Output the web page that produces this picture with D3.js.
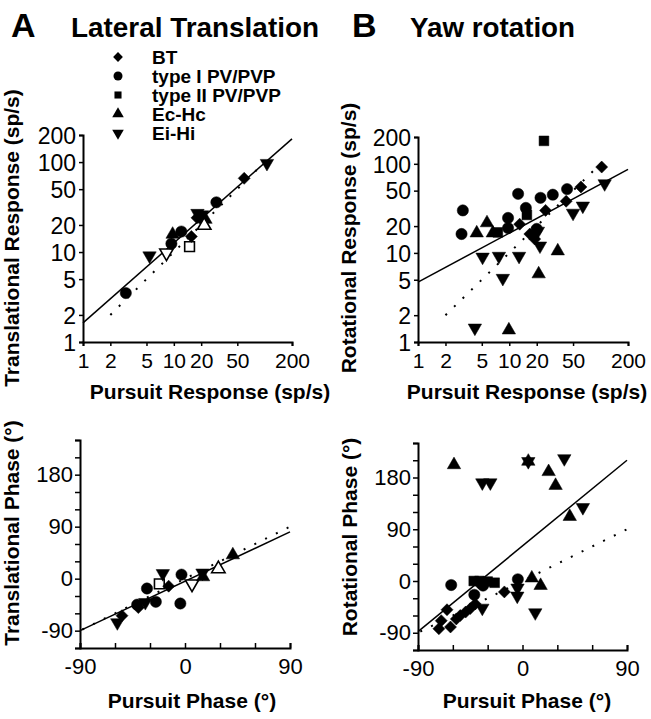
<!DOCTYPE html>
<html>
<head>
<meta charset="utf-8">
<script src="https://cdn.jsdelivr.net/npm/d3@7"></script>
<style>
  body { margin: 0; background: #fff; }
  text { font-family: "Liberation Sans", Arial, sans-serif; fill: #000; }
</style>
</head>
<body>
<svg id="fig" width="651" height="719"></svg>
<script>
// legend / cell types
const typeKeys = ['bt', 'pv1', 'pv2', 'ec', 'ei'];
const typeLabels = ['BT', 'type I PV/PVP', 'type II PV/PVP', 'Ec-Hc', 'Ei-Hi'];

// tick values
const logTicksY = [1, 2, 5, 10, 20, 50, 100, 200];
const logTicksX = [1, 2, 5, 10, 20, 50, 200];
const phaseTicksX = [-90, -60, -30, 0, 30, 60, 90];
const phaseLabelsX = [-90, 0, 90];
const phaseTicksY = [-120, -90, -60, -30, 0, 30, 60, 90, 120, 150, 180, 210, 240];
const phaseLabelsY = [-90, 0, 90, 180];

// [pursuit, response, type, open]
const transResp = [
  [2.96, 3.5, 'pv1'], [5.4, 9.1, 'ei'], [8.3, 9.8, 'ei', 1], [9.4, 12.4, 'pv1'],
  [9.7, 15.7, 'ec'], [12.1, 16.9, 'pv1'], [14.9, 11.5, 'pv2', 1], [15.6, 14.9, 'bt'],
  [18.2, 27, 'ei'], [18, 24, 'bt'], [20, 24, 'pv1'], [20.5, 26, 'ei'],
  [22.3, 23, 'ec'], [21.6, 19.8, 'ec', 1], [29.4, 35.7, 'pv1'], [59.5, 66, 'bt'],
  [106, 97, 'ei']
];
const rotResp = [
  [24, 181, 'pv2'], [103, 92, 'bt'], [111, 60, 'ei'], [61, 55, 'bt'], [43, 52, 'pv1'],
  [30, 45, 'pv1'], [22, 41.5, 'pv1'], [12.5, 46, 'pv1'], [3.1, 30, 'pv1'], [3.0, 16.3, 'pv1'],
  [4.4, 16.7, 'ec'], [5.7, 21.7, 'ec'], [6.6, 16.7, 'ec'], [7.5, 17, 'pv2'], [9.7, 24.7, 'pv1'],
  [9.7, 19, 'pv1'], [15.2, 32, 'pv1'], [15.6, 26.7, 'pv2'], [13, 21, 'bt'], [25, 30, 'bt'],
  [42, 38, 'bt'], [50, 28, 'ei'], [64, 33.7, 'ei'], [16.8, 16.3, 'bt'], [19, 14.3, 'bt'],
  [20.6, 17.6, 'ei'], [21.7, 12, 'ei'], [20, 18.6, 'pv1'], [21, 5.8, 'ec'], [34, 10.5, 'ec'],
  [5.1, 9, 'ei'], [7.7, 9.2, 'ei'], [12.8, 9.2, 'ei'], [8.5, 5.2, 'ei'], [4.2, 1.44, 'ei'],
  [9.9, 1.36, 'ec']
];
const transPhase = [
  [-58, -76, 'ei'], [-54, -64, 'bt'], [-40, -50, 'bt'], [-41, -45, 'pv1'], [-34, -41, 'ei'],
  [-32.6, -17, 'pv1'], [-25, -40, 'pv1'], [-22, -9, 'pv2', 1], [-19, 9, 'ei'], [-14, -13, 'bt'],
  [-3, 7, 'pv1'], [-4, -43, 'pv1'], [6, -9, 'ei', 1], [15, 10, 'ei'], [15.5, 3, 'ec'],
  [28.6, 17, 'ec', 1], [41, 41, 'ec']
];
const rotPhase = [
  [-59, 202, 'ec'], [-34.6, 171, 'ei'], [-27.7, 171, 'ei'], [5, 208, 'ec'], [5, 208, 'ei'],
  [36, 213, 'ei'], [22.5, 190, 'ec'], [28.5, 166, 'ec'], [40.7, 112, 'ec'], [52, 128, 'ei'],
  [-61.4, -7, 'pv1'], [-42, 0, 'pv2'], [-37, 0, 'pv2'], [-30, -1, 'pv2'], [-24, -3, 'pv2'],
  [-41.5, -24, 'pv1'], [-34, -8, 'pv1'], [-36, -4, 'pv1'], [-4, 3, 'pv1'], [8, 5, 'ec'],
  [15.6, -8, 'ec'], [-4.3, -12, 'ei'], [-4.5, -26, 'ei'], [11, -55, 'ei'], [-15.6, -19, 'bt'],
  [-34.6, -47, 'ei'], [-65, -50, 'bt'], [-70, -69, 'bt'], [-72, -83, 'bt'], [-62, -80, 'bt'],
  [-57, -66, 'bt'], [-53.6, -60, 'bt'], [-49, -54, 'bt'], [-45, -48, 'bt'], [-40.7, -40, 'bt']
];

// regression lines: [intercept/scale, slope]
const fitTransResp = [1.63, 0.889];
const fitRotResp = [4.7, 0.55];
const fitTransPhase = [-4.5, 0.95];
const fitRotPhase = [61, 1.655];

const svg = d3.select('#fig');

const shapes = {
  bt: { type: d3.symbolSquare, size: 72, rot: 45 },
  pv1: { type: d3.symbolCircle, size: 100, rot: 0 },
  pv2: { type: d3.symbolSquare, size: 95, rot: 0 },
  ec: { type: d3.symbolTriangle, size: 78, rot: 0 },
  ei: { type: d3.symbolTriangle, size: 78, rot: 180 }
};

function drawMarks(g, data, x, y) {
  g.selectAll('path.mark')
    .data(data)
    .enter()
    .append('path')
    .attr('class', 'mark')
    .attr('d', d => d3.symbol().type(shapes[d[2]].type).size(shapes[d[2]].size)())
    .attr('transform', d => `translate(${x(d[0])},${y(d[1])}) rotate(${shapes[d[2]].rot})`)
    .attr('fill', d => d[3] ? '#fff' : '#000')
    .attr('stroke', '#000')
    .attr('stroke-width', d => d[3] ? 1.6 : 0.5);
}

function styleAxis(g, size) {
  g.select('.domain').attr('stroke-width', 2);
  g.selectAll('.tick line').attr('stroke-width', 1.5);
  g.selectAll('.tick text')
    .attr('font-family', '"Liberation Sans", Arial, sans-serif')
    .attr('font-size', size);
}

function drawLine(g, pts, dotted) {
  g.append('path')
    .attr('d', d3.line()(pts))
    .attr('fill', 'none')
    .attr('stroke', '#000')
    .attr('stroke-width', dotted ? 2 : 1.5)
    .attr('stroke-dasharray', dotted ? '2,10' : null);
}

// response panels (log-log)
function responsePanel(xr, yr, data, fit, xTitle, yTitle) {
  const x = d3.scaleLog().domain([1, 200]).range(xr.range);
  const y = d3.scaleLog().domain([1, 200]).range(yr.range);
  const g = svg.append('g');

  // unity line and fit
  drawLine(g, [[x(2), y(2)], [x(110), y(110)]], true);
  drawLine(g, [1, 200].map(v => [x(v), y(fit[0] * Math.pow(v, fit[1]))]), false);

  drawMarks(g, data, x, y);

  const ax = g.append('g')
    .attr('transform', `translate(0,${y(1)})`)
    .call(d3.axisBottom(x).tickValues(logTicksX).tickFormat(d3.format('d'))
      .tickSizeOuter(0).tickSize(4).tickPadding(7));
  styleAxis(ax, 21);

  const ay = g.append('g')
    .attr('transform', `translate(${x(1)},0)`)
    .call(d3.axisLeft(y).tickValues(logTicksY).tickFormat(d3.format('d'))
      .tickSizeOuter(0).tickSize(4).tickPadding(3));
  styleAxis(ay, 23);
  ay.selectAll('.tick text').attr('dy', '0.36em');

  g.append('text')
    .attr('x', xTitle[0]).attr('y', xTitle[1])
    .attr('text-anchor', 'middle')
    .attr('font-size', 21).attr('font-weight', 'bold')
    .text(xTitle[2]);
  g.append('text')
    .attr('transform', `translate(${yTitle[0]},${yTitle[1]}) rotate(-90)`)
    .attr('text-anchor', 'middle')
    .attr('font-size', 21).attr('font-weight', 'bold')
    .text(yTitle[2]);
}

// phase panels (linear)
function phasePanel(xr, yr, data, fit, xTitle, yTitle) {
  const x = d3.scaleLinear().domain([-90, 90]).range(xr);
  const y = d3.scaleLinear().domain([-120, 240]).range(yr);
  const g = svg.append('g');

  drawLine(g, [[x(-88), y(-88)], [x(90), y(90)]], true);
  drawLine(g, [-90, 90].map(v => [x(v), y(fit[0] + fit[1] * v)]), false);

  drawMarks(g, data, x, y);

  const ax = g.append('g')
    .attr('transform', `translate(0,${y(-120)})`)
    .call(d3.axisBottom(x).tickValues(phaseTicksX)
      .tickFormat(d => phaseLabelsX.includes(d) ? d : '')
      .tickSizeOuter(0).tickSize(-5).tickPadding(10));
  styleAxis(ax, 22);

  const ay = g.append('g')
    .attr('transform', `translate(${x(-90)},0)`)
    .call(d3.axisLeft(y).tickValues(phaseTicksY)
      .tickFormat(d => phaseLabelsY.includes(d) ? d : '')
      .tickSizeOuter(0).tickSize(5).tickPadding(2));
  styleAxis(ay, 22);

  g.append('text')
    .attr('x', xTitle[0]).attr('y', xTitle[1])
    .attr('text-anchor', 'middle')
    .attr('font-size', 21).attr('font-weight', 'bold')
    .text(xTitle[2]);
  g.append('text')
    .attr('transform', `translate(${yTitle[0]},${yTitle[1]}) rotate(-90)`)
    .attr('text-anchor', 'middle')
    .attr('font-size', 21).attr('font-weight', 'bold')
    .text(yTitle[2]);
}

responsePanel({ range: [83, 292] }, { range: [342, 135] }, transResp, fitTransResp,
  [210, 399, 'Pursuit Response (sp/s)'], [19, 238, 'Translational Response (sp/s)']);
responsePanel({ range: [418, 628] }, { range: [342, 137] }, rotResp, fitRotResp,
  [527, 399, 'Pursuit Response (sp/s)'], [356, 238, 'Rotational Response (sp/s)']);
phasePanel([80, 290], [648, 440], transPhase, fitTransPhase,
  [192, 708, 'Pursuit Phase (°)'], [19, 533, 'Translational Phase (°)']);
phasePanel([418, 627], [650, 443], rotPhase, fitRotPhase,
  [527, 708, 'Pursuit Phase (°)'], [357, 537, 'Rotational Phase (°)']);

// headings
const heads = [
  { t: 'A', x: 11, size: 34 },
  { t: 'Lateral Translation', x: 71, size: 28, w: 248 },
  { t: 'B', x: 352, size: 34 },
  { t: 'Yaw rotation', x: 410, size: 28, w: 165 }
];
svg.selectAll('text.head')
  .data(heads)
  .enter()
  .append('text')
  .attr('class', 'head')
  .attr('x', d => d.x).attr('y', 37)
  .attr('font-size', d => d.size).attr('font-weight', 'bold')
  .attr('textLength', d => d.w || null)
  .attr('lengthAdjust', 'spacingAndGlyphs')
  .text(d => d.t);

// legend
const legendSize = { bt: 48, pv1: 64, pv2: 50, ec: 58, ei: 58 };
const lg = svg.append('g');
typeKeys.forEach((k, i) => {
  const cy = 57 + i * 19;
  lg.append('path')
    .attr('d', d3.symbol().type(shapes[k].type).size(legendSize[k])())
    .attr('transform', `translate(118,${cy}) rotate(${shapes[k].rot})`)
    .attr('fill', '#000');
  lg.append('text')
    .attr('x', 152).attr('y', cy + 7)
    .attr('font-size', 19).attr('font-weight', 'bold')
    .text(typeLabels[i]);
});
</script>
</body>
</html>
